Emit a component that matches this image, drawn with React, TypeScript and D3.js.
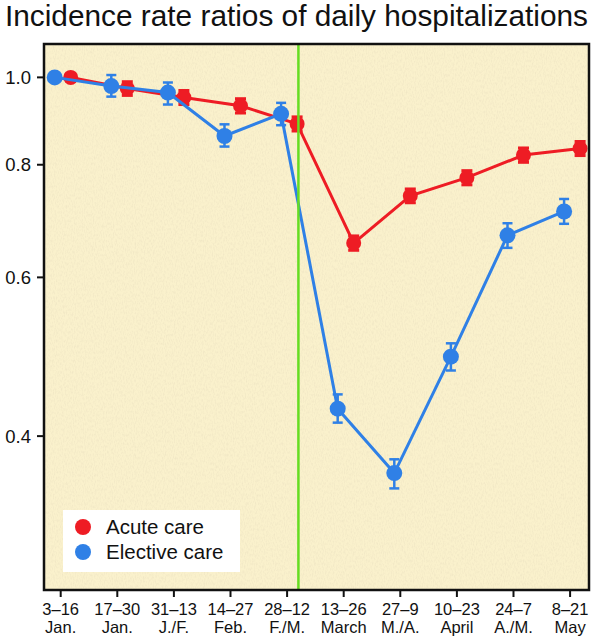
import React from 'react';
import * as d3 from 'd3';

// period labels (two lines each)
const periodTop = ['3–16', '17–30', '31–13', '14–27', '28–12', '13–26', '27–9', '10–23', '24–7', '8–21'];
const periodBottom = ['Jan.', 'Jan.', 'J./F.', 'Feb.', 'F./M.', 'March', 'M./A.', 'April', 'A./M.', 'May'];

// incidence rate ratios
const acuteIRR = [1.0, 0.972, 0.95, 0.93, 0.888, 0.655, 0.739, 0.774, 0.82, 0.834];
const acuteLow = [1.0, 0.955, 0.933, 0.913, 0.872, 0.643, 0.726, 0.76, 0.805, 0.819];
const acuteHigh = [1.0, 0.989, 0.967, 0.947, 0.904, 0.667, 0.752, 0.788, 0.835, 0.849];

const electiveIRR = [1.0, 0.978, 0.962, 0.861, 0.911, 0.429, 0.364, 0.49, 0.668, 0.71];
const electiveLow = [1.0, 0.952, 0.933, 0.838, 0.885, 0.414, 0.35, 0.473, 0.647, 0.688];
const electiveHigh = [1.0, 1.006, 0.987, 0.887, 0.937, 0.445, 0.377, 0.507, 0.689, 0.733];

const yTicks = [0.4, 0.6, 0.8, 1.0];
const lockdownAt = 4.2; // position of the vertical marker, in period units

const W = 611;
const H = 639;
const plot = { left: 44, right: 589, top: 44, bottom: 590 };

const RED = '#ee1c24';
const BLUE = '#2f80e6';
const GREEN = '#66dd22';

const App: React.FC = () => {
  const x = d3.scaleLinear().domain([-0.295, 9.334]).range([plot.left, plot.right]);
  const y = d3.scaleLog().domain([0.27, 1.089]).range([plot.bottom, plot.top]);

  const series = [
    { name: 'Acute care', color: RED, vals: acuteIRR, lo: acuteLow, hi: acuteHigh, dx: 10, cap: 5.5, r: 7.5, bw: 3 },
    { name: 'Elective care', color: BLUE, vals: electiveIRR, lo: electiveLow, hi: electiveHigh, dx: -6, cap: 5, r: 8, bw: 2.5 },
  ];

  const line = (s: typeof series[0]) =>
    d3.line<number>()
      .x((_, i) => x(i) + s.dx)
      .y(d => y(d))(s.vals) || '';

  return (
    <svg width={W} height={H} style={{ position: 'absolute', left: 0, top: 0, fontFamily: 'Arial, "Liberation Sans", Helvetica, sans-serif' }}>
      <defs>
        <filter id="paper" x="0" y="0" width="100%" height="100%">
          <feTurbulence type="fractalNoise" baseFrequency="0.9 0.35" numOctaves="2" seed="3" result="n" />
          <feColorMatrix type="matrix"
            values="0 0 0 0 0.78  0 0 0 0 0.7  0 0 0 0 0.5  0 0 0 -2.2 1.3" />
        </filter>
      </defs>

      <text x={5} y={26} fontSize={29.8} fill="#111">Incidence rate ratios of daily hospitalizations</text>

      {/* plot background */}
      <rect x={plot.left} y={plot.top} width={plot.right - plot.left} height={plot.bottom - plot.top} fill="#faf1cc" />
      <rect x={plot.left} y={plot.top} width={plot.right - plot.left} height={plot.bottom - plot.top} filter="url(#paper)" opacity={0.4} />

      {/* series */}
      {series.map(s => (
        <g key={s.name}>
          <path d={line(s)} fill="none" stroke={s.color} strokeWidth={3} />
          {s.vals.map((v, i) => {
            const cx = x(i) + s.dx;
            const hasBar = s.lo[i] !== s.hi[i];
            return (
              <g key={i}>
                {hasBar && (
                  <g stroke={s.color} strokeWidth={s.bw}>
                    <line x1={cx} x2={cx} y1={y(s.lo[i])} y2={y(s.hi[i])} />
                    <line x1={cx - s.cap} x2={cx + s.cap} y1={y(s.lo[i])} y2={y(s.lo[i])} />
                    <line x1={cx - s.cap} x2={cx + s.cap} y1={y(s.hi[i])} y2={y(s.hi[i])} />
                  </g>
                )}
                <circle cx={cx} cy={y(v)} r={s.r} fill={s.color} />
              </g>
            );
          })}
        </g>
      ))}

      {/* vertical marker */}
      <line x1={x(lockdownAt)} x2={x(lockdownAt)} y1={plot.top} y2={plot.bottom} stroke={GREEN} strokeWidth={2.5} />

      {/* frame */}
      <rect x={plot.left} y={plot.top} width={plot.right - plot.left} height={plot.bottom - plot.top} fill="none" stroke="#111" strokeWidth={2.5} />

      {/* y axis */}
      {yTicks.map(t => (
        <g key={t}>
          <line x1={plot.left - 7} x2={plot.left} y1={y(t)} y2={y(t)} stroke="#111" strokeWidth={2} />
          <text x={plot.left - 13} y={y(t)} dy="0.36em" textAnchor="end" fontSize={18.5} fill="#111">
            {d3.format('.1f')(t)}
          </text>
        </g>
      ))}

      {/* x axis */}
      {periodTop.map((p, i) => (
        <g key={i}>
          <line x1={x(i)} x2={x(i)} y1={plot.bottom} y2={plot.bottom + 7} stroke="#111" strokeWidth={2} />
          <text x={x(i)} y={615} textAnchor="middle" fontSize={16.5} fill="#111">{p}</text>
          <text x={x(i)} y={633} textAnchor="middle" fontSize={16.5} fill="#111">{periodBottom[i]}</text>
        </g>
      ))}

      {/* legend */}
      <rect x={63} y={510} width={177} height={62} fill="#ffffff" />
      {series.map((s, i) => (
        <g key={s.name}>
          <circle cx={83} cy={527 + i * 25} r={8} fill={s.color} />
          <text x={106} y={534 + i * 25} fontSize={20.5} fill="#111">{s.name}</text>
        </g>
      ))}
    </svg>
  );
};

export default App;
